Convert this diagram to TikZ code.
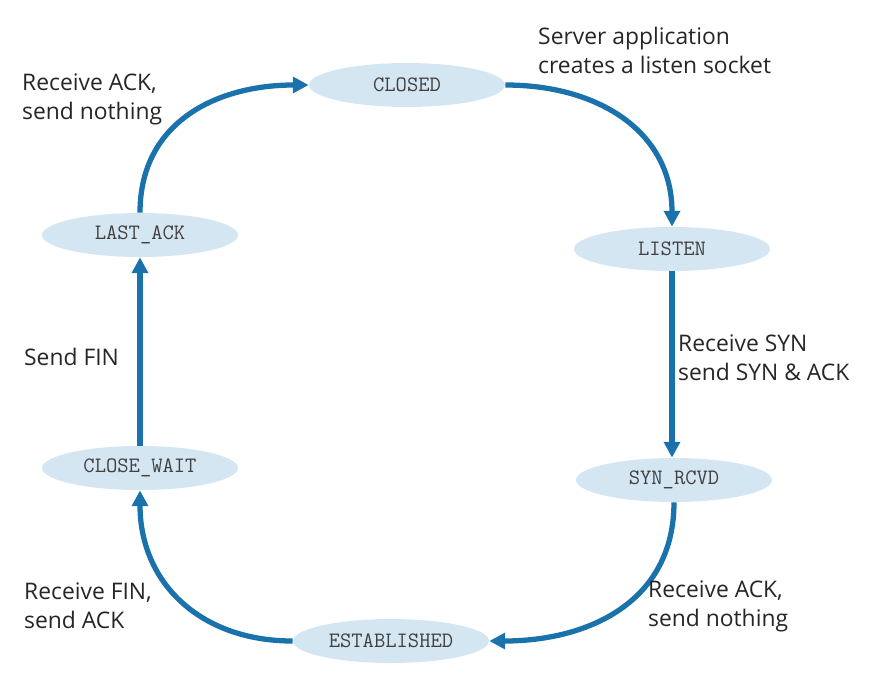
\documentclass[tikz,border=0pt]{standalone}
\usepackage{fontspec}
\setmainfont{Open Sans}
\usetikzlibrary{arrows.meta,shapes.geometric}
\definecolor{statefill}{HTML}{D5E6F3}
\definecolor{flowblue}{HTML}{1A72AD}
\tikzset{
  state/.style={ellipse,fill=statefill,minimum width=196*0.02cm,minimum height=44*0.02cm,
    inner sep=0pt,font=\ttfamily\fontsize{12.5}{14}\selectfont,text=black!75},
  flow/.style={draw=flowblue,line width=3pt,-{Triangle[length=9pt,width=9pt]}},
  lbl/.style={anchor=west,align=left,font=\fontsize{13}{16.5}\selectfont,text=black!85}
}
\begin{document}
\begin{tikzpicture}[x=0.02cm,y=-0.02cm]
  \useasboundingbox (0,0) rectangle (876,680);
  % states
  \node[state] (closed) at (407,85) {CLOSED};
  \node[state] (listen) at (672,249) {LISTEN};
  \node[state] (synrcvd) at (674,480) {SYN\_RCVD};
  \node[state] (estab) at (391,641) {ESTABLISHED};
  \node[state] (closewait) at (140,468) {CLOSE\_WAIT};
  \node[state] (lastack) at (140,235) {LAST\_ACK};
  % transitions
  \draw[flow] (closed.east) to[out=0,in=90,looseness=1.1] (listen.north);
  \draw[flow] (listen.south) -- (synrcvd.north -| listen.south);
  \draw[flow] (synrcvd.south) to[out=-90,in=0,looseness=1.1] (estab.east);
  \draw[flow] (estab.west) to[out=180,in=-90,looseness=1.1] (closewait.south);
  \draw[flow] (closewait.north) -- (lastack.south);
  \draw[flow] (lastack.north) to[out=90,in=180,looseness=1.1] (closed.west);
  % labels
  \node[lbl] (lsrv) at (532,50) {Server application\\creates a listen socket};
  \node[lbl] (lsyn) at (672,358) {Receive SYN\\send SYN \& ACK};
  \node[lbl] (lack2) at (642,606) {Receive ACK,\\send nothing};
  \node[lbl] (lfin) at (18,606) {Receive FIN,\\send ACK};
  \node[lbl] (lsfin) at (18,357) {Send FIN};
  \node[lbl] (lack1) at (16,99) {Receive ACK,\\send nothing};
\end{tikzpicture}
\end{document}
